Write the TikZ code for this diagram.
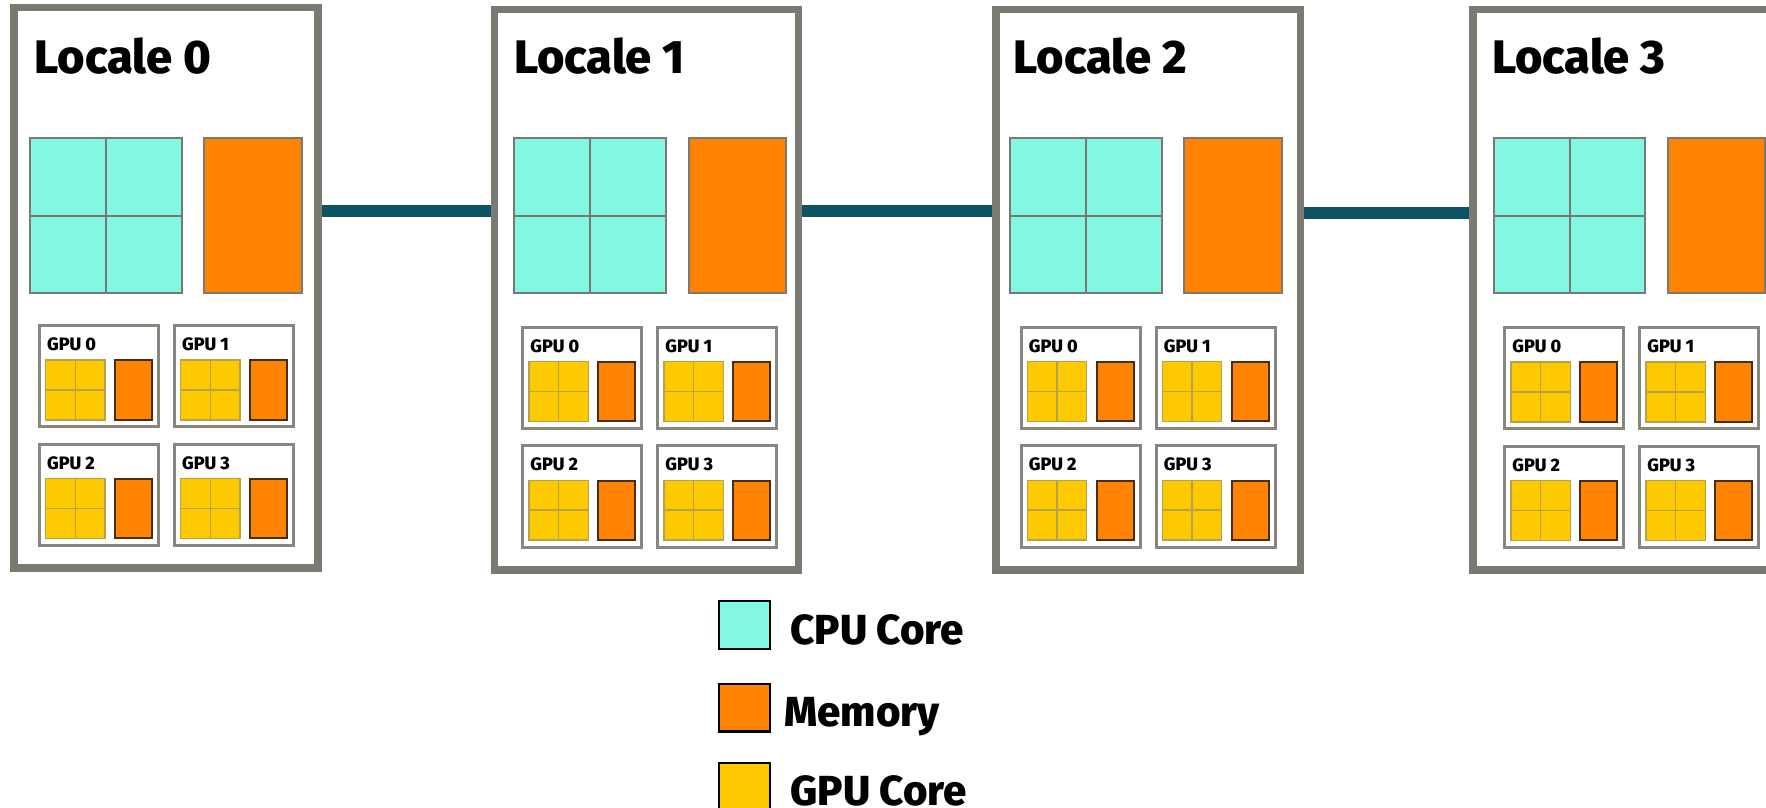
\documentclass[tikz,border=0pt]{standalone}
\usepackage{fontspec}
\setmainfont{Fira Sans}
\IfFontExistsTF{Fira Sans ExtraBold}{\newfontfamily\heavy{Fira Sans ExtraBold}}{\newfontfamily\heavy{Fira Sans Bold}[FakeBold=0.8]}
\usetikzlibrary{calc}
\definecolor{lgrey}{RGB}{123,122,114}
\definecolor{cgrey}{RGB}{122,122,114}
\definecolor{ggrey}{RGB}{135,135,128}
\definecolor{cpucol}{RGB}{130,248,226}
\definecolor{memcol}{RGB}{255,131,0}
\definecolor{gpucol}{RGB}{253,201,0}
\definecolor{yline}{RGB}{185,160,75}
\definecolor{mline}{RGB}{70,45,20}
\definecolor{linkcol}{RGB}{14,82,101}
\tikzset{
  localebox/.style={draw=lgrey, line width=3.75pt, fill=white, minimum width=152.1pt, minimum height=280.1pt, inner sep=0pt, anchor=north west},
  cpugrid/.style={draw=cgrey, line width=1pt, fill=cpucol, minimum width=75.85pt, minimum height=77.5pt, inner sep=0pt, anchor=north west},
  bigmem/.style={draw=cgrey, line width=1pt, fill=memcol, minimum width=48.7pt, minimum height=77.5pt, inner sep=0pt, anchor=north west},
  cgridline/.style={draw=cgrey, line width=1pt},
  gpubox/.style={draw=ggrey, line width=1.5pt, fill=white, minimum width=59.65pt, minimum height=50.65pt, inner sep=0pt, anchor=north west},
  ygrid/.style={draw=yline, line width=0.7pt, fill=gpucol, minimum width=29.6pt, minimum height=29.95pt, inner sep=0pt, anchor=north west},
  ygridline/.style={draw=yline, line width=0.7pt},
  smem/.style={draw=mline, line width=1pt, fill=memcol, minimum width=18.65pt, minimum height=29.7pt, inner sep=0pt, anchor=north west},
  link/.style={draw=linkcol, line width=6pt},
  legbox/.style={draw=black, line width=1.2pt, minimum width=25.5pt, minimum height=23.85pt, inner sep=0pt, anchor=north west},
  title/.style={font=\heavy\fontsize{23.5}{24}\selectfont, inner sep=0pt, anchor=base west},
  gpulabel/.style={font=\heavy\fontsize{9}{9}\selectfont, inner sep=0pt, anchor=base west},
  legtext/.style={font=\heavy\fontsize{21}{21}\selectfont, inner sep=0pt, anchor=base west}
}
\begin{document}
\begin{tikzpicture}[x=0.5pt, y=-0.5pt]
\useasboundingbox (0,0) rectangle (1766,808);
\clip (0,0) rectangle (1766,808);
\fill[white] (0,0) rectangle (1766,808);
\foreach \i/\lx/\ly/\cx/\tx/\gx/\gy in {0/10/4/29/34.3/37.7/324, 1/490.7/6/513.4/513.6/521/325.5, 2/992.3/6/1009/1013.3/1019.5/325.5, 3/1469.3/6/1492.7/1491.7/1503/326}{
  \node[localebox] (L\i) at (\lx,\ly) {};
  \node[title] (T\i) at (\tx,74) {Locale \i};
  \node[cpugrid] (cpu\i) at (\cx,137.3) {};
  \draw[cgridline] (cpu\i.north) -- (cpu\i.south);
  \draw[cgridline] (cpu\i.west) -- (cpu\i.east);
  \node[bigmem] (mem\i) at ({\cx+174.3},137.3) {};
  \foreach \j/\ox/\oy in {0/0/0, 1/135/0, 2/0/118.7, 3/135/118.7}{
    \node[gpubox] (G\i-\j) at ({\gx+\ox},{\gy+\oy}) {};
    \node[gpulabel] (GL\i-\j) at ({\gx+\ox+9},{\gy+\oy+26.7}) {GPU \j};
    \node[ygrid] (Y\i-\j) at ({\gx+\ox+7.3},{\gy+\oy+35.3}) {};
    \draw[ygridline] (Y\i-\j.north) -- (Y\i-\j.south);
    \draw[ygridline] (Y\i-\j.west) -- (Y\i-\j.east);
    \node[smem] (M\i-\j) at ({\gx+\ox+76},{\gy+\oy+35.3}) {};
  }
}
\draw[link] ($(L0.east |- cpu0.center)+(0,2.2pt)$) -- ($(L1.west |- cpu0.center)+(0,2.2pt)$);
\draw[link] ($(L1.east |- cpu1.center)+(0,2.6pt)$) -- ($(L2.west |- cpu1.center)+(0,2.6pt)$);
\draw[link] ($(L2.east |- cpu2.center)+(0,1.6pt)$) -- ($(L3.west |- cpu2.center)+(0,1.6pt)$);
\node[legbox, fill=cpucol] (legcpu) at (717.7,600) {};
\node[legbox, fill=memcol] (legmem) at (717.7,682.7) {};
\node[legbox, fill=gpucol] (leggpu) at (717.7,761.7) {};
\node[legtext] (legcput) at (790,644) {CPU Core};
\node[legtext] (legmemt) at (784,726.7) {Memory};
\node[legtext] (leggput) at (790,805) {GPU Core};
\end{tikzpicture}
\end{document}
